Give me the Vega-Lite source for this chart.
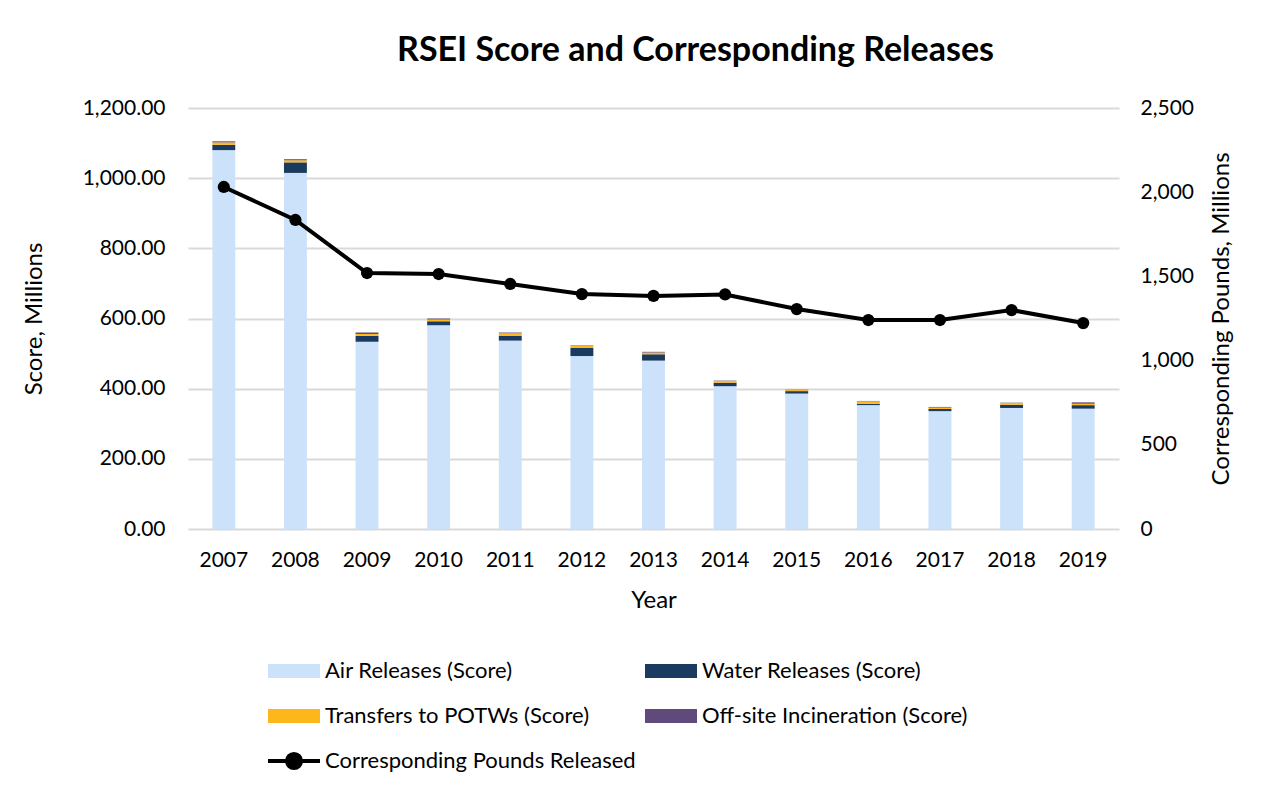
{
  "$schema": "https://vega.github.io/schema/vega-lite/v6.json",
  "width": 931,
  "height": 421,
  "autosize": {"type": "none"},
  "padding": {"left": 188, "top": 108, "right": 147, "bottom": 261},
  "background": "white",
  "config": {
    "font": "Lato",
    "view": {"stroke": null},
    "axis": {"labelFont": "Lato", "titleFont": "Lato", "labelColor": "#000", "titleColor": "#000", "titleFontWeight": "normal"},
    "legend": {"labelFont": "Lato", "labelColor": "#000"}
  },
  "title": {
    "text": "RSEI Score and Corresponding Releases",
    "fontSize": 34,
    "fontWeight": "bold",
    "font": "Lato",
    "color": "#000",
    "anchor": "middle",
    "dx": 42,
    "offset": 29
  },
  "datasets": {
    "scores": [
      {"year": "2007", "type": "Air Releases (Score)", "score": 1080},
      {"year": "2007", "type": "Water Releases (Score)", "score": 15},
      {"year": "2007", "type": "Transfers to POTWs (Score)", "score": 7},
      {"year": "2007", "type": "Off-site Incineration (Score)", "score": 3},
      {"year": "2008", "type": "Air Releases (Score)", "score": 1015},
      {"year": "2008", "type": "Water Releases (Score)", "score": 30},
      {"year": "2008", "type": "Transfers to POTWs (Score)", "score": 6},
      {"year": "2008", "type": "Off-site Incineration (Score)", "score": 3},
      {"year": "2009", "type": "Air Releases (Score)", "score": 534},
      {"year": "2009", "type": "Water Releases (Score)", "score": 17},
      {"year": "2009", "type": "Transfers to POTWs (Score)", "score": 5},
      {"year": "2009", "type": "Off-site Incineration (Score)", "score": 4},
      {"year": "2010", "type": "Air Releases (Score)", "score": 581},
      {"year": "2010", "type": "Water Releases (Score)", "score": 11},
      {"year": "2010", "type": "Transfers to POTWs (Score)", "score": 5},
      {"year": "2010", "type": "Off-site Incineration (Score)", "score": 3},
      {"year": "2011", "type": "Air Releases (Score)", "score": 537},
      {"year": "2011", "type": "Water Releases (Score)", "score": 14},
      {"year": "2011", "type": "Transfers to POTWs (Score)", "score": 7},
      {"year": "2011", "type": "Off-site Incineration (Score)", "score": 2},
      {"year": "2012", "type": "Air Releases (Score)", "score": 493},
      {"year": "2012", "type": "Water Releases (Score)", "score": 23},
      {"year": "2012", "type": "Transfers to POTWs (Score)", "score": 7},
      {"year": "2012", "type": "Off-site Incineration (Score)", "score": 1},
      {"year": "2013", "type": "Air Releases (Score)", "score": 480},
      {"year": "2013", "type": "Water Releases (Score)", "score": 18},
      {"year": "2013", "type": "Transfers to POTWs (Score)", "score": 5},
      {"year": "2013", "type": "Off-site Incineration (Score)", "score": 2},
      {"year": "2014", "type": "Air Releases (Score)", "score": 407},
      {"year": "2014", "type": "Water Releases (Score)", "score": 10},
      {"year": "2014", "type": "Transfers to POTWs (Score)", "score": 5},
      {"year": "2014", "type": "Off-site Incineration (Score)", "score": 1},
      {"year": "2015", "type": "Air Releases (Score)", "score": 386},
      {"year": "2015", "type": "Water Releases (Score)", "score": 7},
      {"year": "2015", "type": "Transfers to POTWs (Score)", "score": 3},
      {"year": "2015", "type": "Off-site Incineration (Score)", "score": 1},
      {"year": "2016", "type": "Air Releases (Score)", "score": 353},
      {"year": "2016", "type": "Water Releases (Score)", "score": 4},
      {"year": "2016", "type": "Transfers to POTWs (Score)", "score": 7},
      {"year": "2016", "type": "Off-site Incineration (Score)", "score": 1},
      {"year": "2017", "type": "Air Releases (Score)", "score": 336},
      {"year": "2017", "type": "Water Releases (Score)", "score": 6},
      {"year": "2017", "type": "Transfers to POTWs (Score)", "score": 4},
      {"year": "2017", "type": "Off-site Incineration (Score)", "score": 2},
      {"year": "2018", "type": "Air Releases (Score)", "score": 345},
      {"year": "2018", "type": "Water Releases (Score)", "score": 9},
      {"year": "2018", "type": "Transfers to POTWs (Score)", "score": 5},
      {"year": "2018", "type": "Off-site Incineration (Score)", "score": 1},
      {"year": "2019", "type": "Air Releases (Score)", "score": 343},
      {"year": "2019", "type": "Water Releases (Score)", "score": 10},
      {"year": "2019", "type": "Transfers to POTWs (Score)", "score": 4},
      {"year": "2019", "type": "Off-site Incineration (Score)", "score": 4}
    ],
    "pounds": [
      {"year": "2007", "pounds": 2031},
      {"year": "2008", "pounds": 1835},
      {"year": "2009", "pounds": 1520},
      {"year": "2010", "pounds": 1514},
      {"year": "2011", "pounds": 1455},
      {"year": "2012", "pounds": 1395},
      {"year": "2013", "pounds": 1384},
      {"year": "2014", "pounds": 1393},
      {"year": "2015", "pounds": 1306},
      {"year": "2016", "pounds": 1241},
      {"year": "2017", "pounds": 1241},
      {"year": "2018", "pounds": 1300},
      {"year": "2019", "pounds": 1223}
    ]
  },
  "encoding": {
    "x": {
      "field": "year",
      "type": "ordinal",
      "scale": {"paddingInner": 0.68, "paddingOuter": 0.34},
      "axis": {
        "title": "Year",
        "labelAngle": 0,
        "labelFontSize": 21,
        "titleFontSize": 24,
        "ticks": false,
        "domain": false,
        "labelPadding": 20,
        "titlePadding": 18
      }
    }
  },
  "layer": [
    {
      "data": {"name": "scores"},
      "transform": [
        {"calculate": "indexof(['Air Releases (Score)', 'Water Releases (Score)', 'Transfers to POTWs (Score)', 'Off-site Incineration (Score)'], datum.type)", "as": "stackOrder"}
      ],
      "mark": {"type": "bar"},
      "encoding": {
        "y": {
          "field": "score",
          "type": "quantitative",
          "aggregate": "sum",
          "scale": {"domain": [0, 1200]},
          "axis": {
            "title": "Score, Millions",
            "values": [0, 200, 400, 600, 800, 1000, 1200],
            "format": ",.2f",
            "labelFontSize": 21,
            "titleFontSize": 24,
            "ticks": false,
            "domain": false,
            "gridColor": "#d9d9d9",
            "gridWidth": 2,
            "labelPadding": 23,
            "titlePadding": 36
          }
        },
        "order": {"field": "stackOrder", "type": "quantitative", "sort": "ascending"},
        "color": {
          "field": "type",
          "type": "nominal",
          "scale": {
            "domain": ["Air Releases (Score)", "Water Releases (Score)", "Transfers to POTWs (Score)", "Off-site Incineration (Score)"],
            "range": ["#cce2fa", "#1b3a5f", "#fdb71a", "#604a7b"]
          },
          "legend": {
            "title": null,
            "orient": "none",
            "direction": "horizontal",
            "legendX": 80,
            "legendY": 537,
            "columns": 2,
            "columnPadding": 55,
            "rowPadding": 8,
            "symbolType": "M-1,-0.27L1,-0.27L1,0.27L-1,0.27Z",
            "symbolSize": 2704,
            "symbolStrokeWidth": 0,
            "labelFontSize": 22,
            "labelOffset": 5,
            "labelLimit": 400
          }
        }
      }
    },
    {
      "data": {"name": "pounds"},
      "encoding": {
        "y": {
          "field": "pounds",
          "type": "quantitative",
          "scale": {"domain": [0, 2500]},
          "axis": {
            "orient": "right",
            "title": "Corresponding Pounds, Millions",
            "titleAngle": 270,
            "values": [0, 500, 1000, 1500, 2000, 2500],
            "format": ",d",
            "labelFontSize": 21,
            "titleFontSize": 24,
            "ticks": false,
            "domain": false,
            "grid": false,
            "labelPadding": 21,
            "titlePadding": 40
          }
        }
      },
      "layer": [
        {
          "mark": {"type": "line", "strokeWidth": 4},
          "encoding": {
            "stroke": {
              "datum": "Corresponding Pounds Released",
              "type": "nominal",
              "scale": {"range": ["#000000"]},
              "legend": {
                "title": null,
                "orient": "none",
                "legendX": 78,
                "legendY": 625,
                "symbolType": "M-1,0L1,0M-0.27,0A0.27,0.27 0 1,1 0.27,0A0.27,0.27 0 1,1 -0.27,0Z",
                "symbolSize": 2704,
                "symbolStrokeWidth": 4,
                "symbolFillColor": "#000000",
                "symbolStrokeColor": "#000000",
                "labelFontSize": 22,
                "labelOffset": 3,
                "labelLimit": 400
              }
            }
          }
        },
        {
          "mark": {"type": "point", "filled": true, "size": 150, "color": "#000000", "opacity": 1},
          "encoding": {}
        }
      ]
    }
  ],
  "resolve": {"scale": {"y": "independent"}}
}
